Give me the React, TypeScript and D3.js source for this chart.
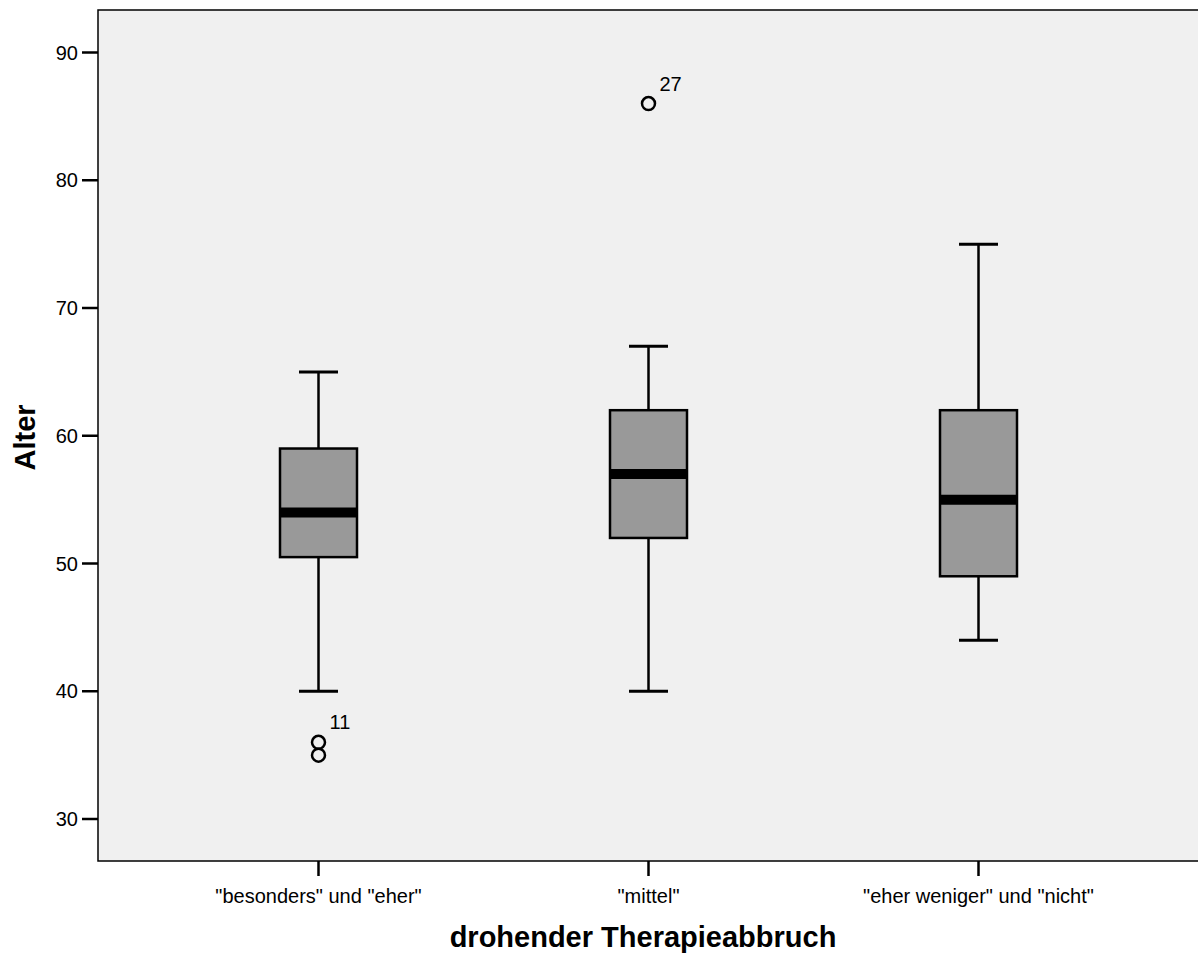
import React from "react";
import * as d3 from "d3";

const categories = ['"besonders" und "eher"', '"mittel"', '"eher weniger" und "nicht"'];
const q1 = [50.5, 52, 49];
const median = [54, 57, 55];
const q3 = [59, 62, 62];
const whiskerLow = [40, 40, 44];
const whiskerHigh = [65, 67, 75];
const outlierValues = [[35, 36], [86], []];
const outlierLabels = ["11", "27", ""];
const yTicks = [30, 40, 50, 60, 70, 80, 90];

const W = 1198;
const H = 954;
const plotLeft = 98;
const plotTop = 10;
const plotBottom = 861;
const plotRight = 1210;

export default function App() {
  const y = d3.scaleLinear().domain([30, 90]).range([819, 52.5]);
  const x = d3.scalePoint<string>().domain(categories).range([318.5, 978.5]);
  const boxW = 77;
  const capW = 39;
  const font = "'Liberation Sans', Arial, sans-serif";

  return (
    <svg width={W} height={H} style={{ position: "absolute", left: 0, top: 0 }} fontFamily={font}>
      <rect x={0} y={0} width={W} height={H} fill="#ffffff" />
      <rect x={plotLeft} y={plotTop} width={plotRight - plotLeft} height={plotBottom - plotTop} fill="#f0f0f0" stroke="#000" strokeWidth={1.5} />
      {yTicks.map((t) => (
        <g key={t}>
          <line x1={82} x2={plotLeft} y1={y(t)} y2={y(t)} stroke="#000" strokeWidth={2.5} />
          <text x={78} y={y(t)} dy="0.36em" textAnchor="end" fontSize={20} fill="#000">{t}</text>
        </g>
      ))}
      {categories.map((c, i) => {
        const cx = x(c)!;
        return (
          <g key={c}>
            <line x1={cx} x2={cx} y1={plotBottom} y2={876} stroke="#000" strokeWidth={2.5} />
            <text x={cx} y={903} textAnchor="middle" fontSize={20} fill="#000">{c}</text>
            <line x1={cx} x2={cx} y1={y(whiskerHigh[i])} y2={y(q3[i])} stroke="#000" strokeWidth={2.5} />
            <line x1={cx} x2={cx} y1={y(q1[i])} y2={y(whiskerLow[i])} stroke="#000" strokeWidth={2.5} />
            <line x1={cx - capW / 2} x2={cx + capW / 2} y1={y(whiskerHigh[i])} y2={y(whiskerHigh[i])} stroke="#000" strokeWidth={3} />
            <line x1={cx - capW / 2} x2={cx + capW / 2} y1={y(whiskerLow[i])} y2={y(whiskerLow[i])} stroke="#000" strokeWidth={3} />
            <rect x={cx - boxW / 2} y={y(q3[i])} width={boxW} height={y(q1[i]) - y(q3[i])} fill="#999999" stroke="#000" strokeWidth={2.5} />
            <line x1={cx - boxW / 2} x2={cx + boxW / 2} y1={y(median[i])} y2={y(median[i])} stroke="#000" strokeWidth={10} />
            {outlierValues[i].map((v) => (
              <circle key={v} cx={cx} cy={y(v)} r={6.5} fill="none" stroke="#000" strokeWidth={2.5} />
            ))}
            {outlierValues[i].length > 0 && (
              <text x={cx + 11} y={y(d3.max(outlierValues[i])!) - 13} fontSize={20} fill="#000">{outlierLabels[i]}</text>
            )}
          </g>
        );
      })}
      <text x={643} y={947} textAnchor="middle" fontSize={29} fontWeight="bold" fill="#000">drohender Therapieabbruch</text>
      <text transform={`translate(35,437.5) rotate(-90)`} textAnchor="middle" fontSize={29} fontWeight="bold" fill="#000">Alter</text>
    </svg>
  );
}
